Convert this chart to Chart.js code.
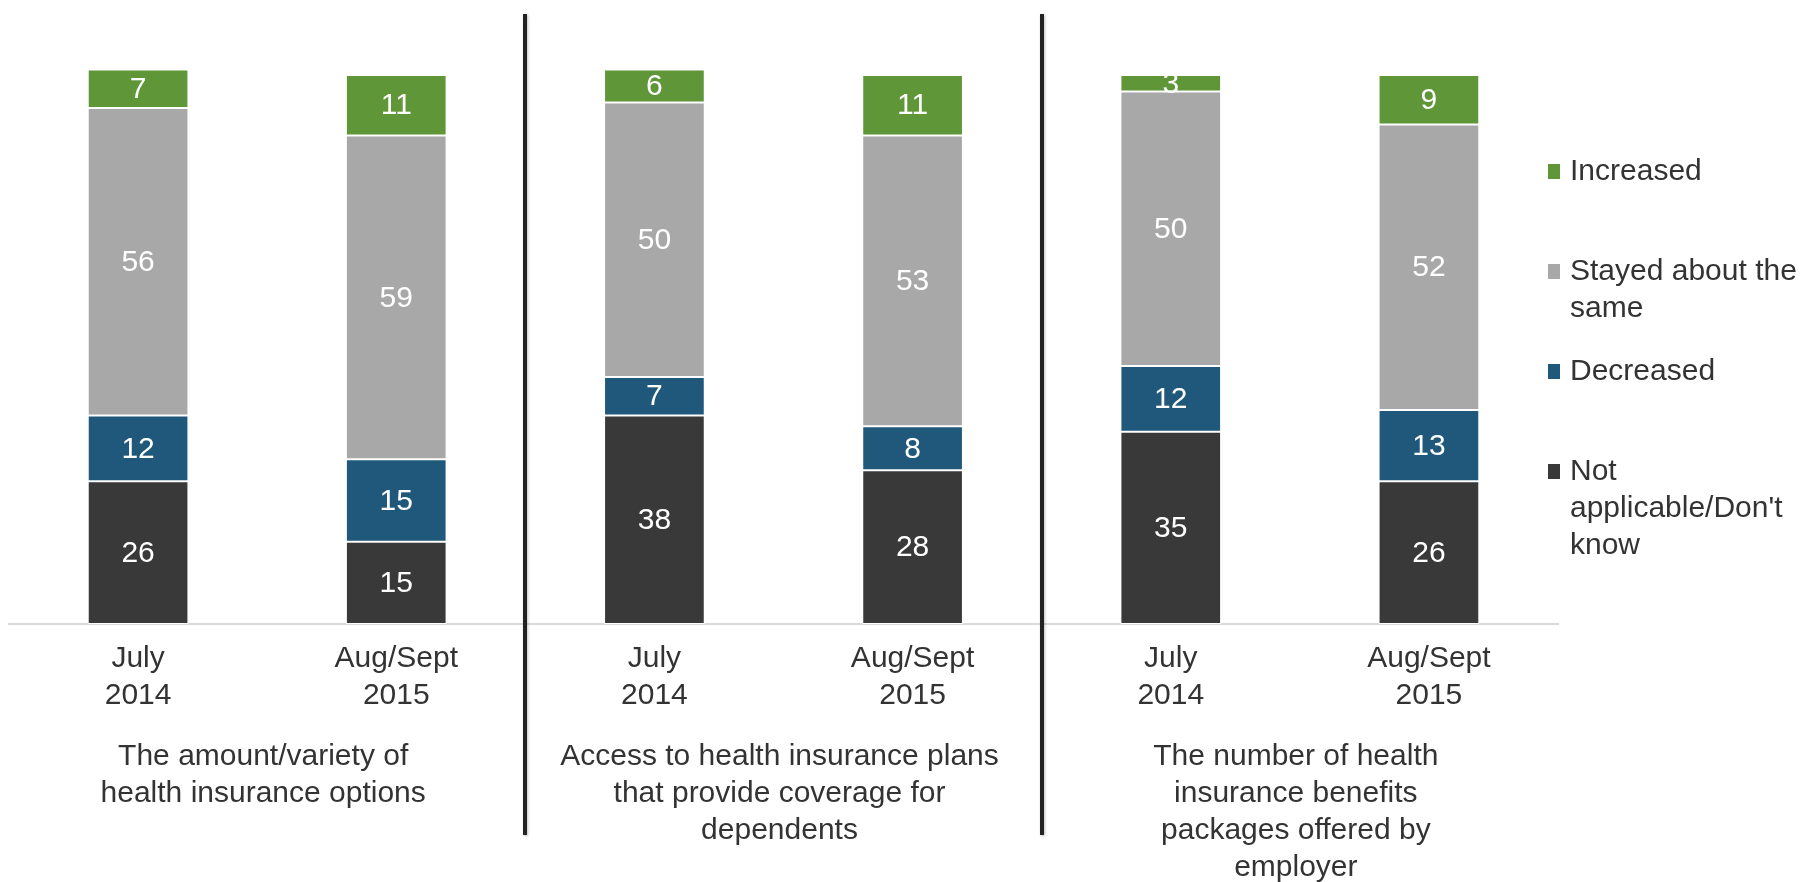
<!DOCTYPE html>
<html>
<head>
<meta charset="utf-8">
<script src="https://cdn.jsdelivr.net/npm/chart.js@4.4.1/dist/chart.umd.min.js"></script>
<style>
  html, body { margin: 0; padding: 0; background: #fff; }
  canvas { display: block; }
</style>
</head>
<body>
<canvas id="myChart" width="1802" height="882"></canvas>
<script>
const periods = [
    ['July', '2014'], ['Aug/Sept', '2015'],
    ['July', '2014'], ['Aug/Sept', '2015'],
    ['July', '2014'], ['Aug/Sept', '2015']
];

const topics = [
    ['The amount/variety of', 'health insurance options'],
    ['Access to health insurance plans', 'that provide coverage for', 'dependents'],
    ['The number of health', 'insurance benefits', 'packages offered by', 'employer']
];

// stacked bottom -> top
const notApplicable = [26, 15, 38, 28, 35, 26];
const decreased     = [12, 15, 7, 8, 12, 13];
const stayedSame    = [56, 59, 50, 53, 50, 52];
const increased     = [7, 11, 6, 11, 3, 9];

const seriesNames = [
    ['Not', "applicable/Don't", 'know'],
    ['Decreased'],
    ['Stayed about the', 'same'],
    ['Increased']
];
const seriesColors = ['#393939', '#1f587a', '#a8a8a8', '#5f9638'];

const fontFamily = '"Liberation Sans", Arial, sans-serif';
const textColor = '#333333';

Chart.defaults.font.family = fontFamily;
Chart.defaults.font.size = 30;
Chart.defaults.color = textColor;

const series = [notApplicable, decreased, stayedSame, increased];

const data = {
    labels: periods,
    datasets: series.map((values, i) => ({
        label: seriesNames[i].join(' '),
        data: values,
        backgroundColor: seriesColors[i],
        borderColor: '#ffffff',
        borderWidth: 1,
        borderSkipped: false,
        clip: false
    }))
};

// value labels, panel dividers, topic captions and the legend
const extras = {
    id: 'extras',
    afterDatasetsDraw(chart) {
        const ctx = chart.ctx;
        const area = chart.chartArea;
        ctx.save();
        ctx.beginPath();
        ctx.rect(area.left, area.top, area.right - area.left, area.bottom - area.top);
        ctx.clip();
        ctx.font = '30px ' + fontFamily;
        ctx.fillStyle = '#ffffff';
        ctx.textAlign = 'center';
        ctx.textBaseline = 'middle';
        chart.data.datasets.forEach((ds, i) => {
            chart.getDatasetMeta(i).data.forEach((bar, j) => {
                ctx.fillText(String(ds.data[j]), bar.x, (bar.y + bar.base) / 2 + 1);
            });
        });
        ctx.restore();
    },
    afterDraw(chart) {
        const ctx = chart.ctx;
        const x = chart.scales.x;
        ctx.save();

        // dividers between the three topics
        ctx.strokeStyle = '#222222';
        ctx.lineWidth = 4;
        ctx.shadowColor = 'rgba(0,0,0,0.25)';
        ctx.shadowBlur = 3;
        ctx.shadowOffsetX = 1;
        ctx.shadowOffsetY = 1;
        [1, 3].forEach(i => {
            const px = Math.round((x.getPixelForTick(i) + x.getPixelForTick(i + 1)) / 2);
            ctx.beginPath();
            ctx.moveTo(px, 14);
            ctx.lineTo(px, 835);
            ctx.stroke();
        });
        ctx.shadowColor = 'transparent';

        // topic captions under each pair of bars
        ctx.font = '30px ' + fontFamily;
        ctx.fillStyle = textColor;
        ctx.textAlign = 'center';
        ctx.textBaseline = 'middle';
        topics.forEach((lines, g) => {
            const cx = (x.getPixelForTick(2 * g) + x.getPixelForTick(2 * g + 1)) / 2 - 4;
            lines.forEach((line, l) => ctx.fillText(line, cx, 757 + l * 37));
        });

        // legend, top item first
        ctx.textAlign = 'left';
        for (let k = 0; k < seriesNames.length; k++) {
            const i = seriesNames.length - 1 - k;
            const y0 = 172 + k * 100;
            ctx.fillStyle = seriesColors[i];
            ctx.fillRect(1548, y0 - 8, 12, 15);
            ctx.fillStyle = textColor;
            seriesNames[i].forEach((line, l) => ctx.fillText(line, 1570, y0 + l * 37));
        }
        ctx.restore();
    }
};

const ctx = document.getElementById('myChart').getContext('2d');
const myChart = new Chart(ctx, {
    type: 'bar',
    data: data,
    plugins: [extras],
    options: {
        responsive: false,
        animation: false,
        layout: {
            padding: { left: 9, right: 244, top: 75, bottom: 0 }
        },
        plugins: {
            legend: { display: false },
            tooltip: { enabled: false }
        },
        datasets: {
            bar: { categoryPercentage: 1, barPercentage: 0.39 }
        },
        scales: {
            x: {
                stacked: true,
                grid: { display: false, drawTicks: false },
                border: { display: true, color: '#d9d9d9', width: 2 },
                ticks: {
                    padding: 16,
                    color: textColor,
                    font: { size: 30, lineHeight: 1.23 },
                    maxRotation: 0,
                    autoSkip: false
                },
                afterFit(scale) { scale.height = 258; }
            },
            y: {
                stacked: true,
                display: false,
                min: 0,
                max: 100
            }
        }
    }
});
</script>
</body>
</html>
